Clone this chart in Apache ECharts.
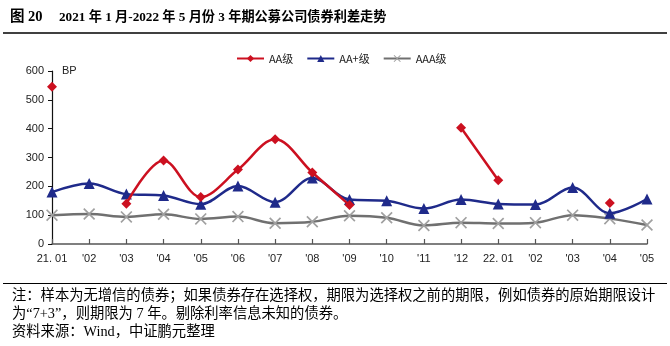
<!DOCTYPE html>
<html>
<head>
<meta charset="utf-8">
<script src="https://cdn.jsdelivr.net/npm/echarts@6/dist/echarts.min.js"></script>
<style>
  html, body { margin: 0; padding: 0; background: #fff; }
  #chart { width: 670px; height: 346px; }
</style>
</head>
<body>
<div id="chart"></div>
<script>
// Months from Jan 2021 to May 2022
var categories = ['21. 01', "'02", "'03", "'04", "'05", "'06", "'07", "'08", "'09", "'10", "'11", "'12",
                  '22. 01', "'02", "'03", "'04", "'05"];

// 3-year public corporate bond spreads (BP) by rating; null = no sample that month
var seriesAA   = [545, null, 140, 290, 163, 258, 363, 248, 135, null, null, 403, 221, null, null, 142, null];
var seriesAAp  = [180, 210, 173, 168, 138, 201, 145, 229, 154, 150, 123, 154, 139, 137, 196, 107, 156];
var seriesAAA  = [100, 104, 94, 103, 87, 95, 72, 77, 98, 91, 64, 74, 71, 74, 100, 88, 66];

var seriesNames = ['AA级', 'AA+级', 'AAA级'];
var yTicks = { min: 0, max: 600, step: 100 };

var titleNo = '图 20';
var titleText = '2021 年 1 月-2022 年 5 月份 3 年期公募公司债券利差走势';
var noteLines = [
  '注：样本为无增信的债券；如果债券存在选择权，期限为选择权之前的期限，例如债券的原始期限设计',
  '为“7+3”，则期限为 7 年。剔除利率信息未知的债券。',
  '资料来源：Wind，中证鹏元整理'
];

var crossPath = 'path://M0,1L1,0L5,4L9,0L10,1L6,5L10,9L9,10L5,6L1,10L0,9L4,5Z';
var latin = "'Liberation Sans', Arial, sans-serif";
var serifCJK = "'Liberation Serif', 'Noto Sans CJK SC', serif";

var chart = echarts.init(document.getElementById('chart'), null, { renderer: 'canvas' });

var option = {
  animation: false,
  backgroundColor: '#fff',
  legend: {
    top: 48,
    left: 231,
    itemWidth: 27,
    itemHeight: 9,
    itemGap: 13,
    textStyle: { fontFamily: "'Noto Sans CJK SC', " + latin, fontSize: 11, color: '#222' },
    data: seriesNames
  },
  grid: { left: 52, right: 23, top: 71, bottom: 102, containLabel: false },
  xAxis: {
    type: 'category',
    data: categories,
    boundaryGap: false,
    axisLine: { lineStyle: { color: '#555', width: 1.5 } },
    axisTick: { inside: true, length: 5, alignWithLabel: true, lineStyle: { color: '#555', width: 1.2 } },
    axisLabel: { interval: 0, margin: 9, fontFamily: latin, fontSize: 11, color: '#222' },
    splitLine: { show: false }
  },
  yAxis: {
    type: 'value',
    min: yTicks.min,
    max: yTicks.max,
    interval: yTicks.step,
    axisLine: { show: true, lineStyle: { color: '#111', width: 1.2 } },
    axisTick: { show: true, length: 4, lineStyle: { color: '#111' } },
    axisLabel: { margin: 8, fontFamily: latin, fontSize: 11, color: '#222' },
    splitLine: { show: false }
  },
  series: [
    {
      name: seriesNames[0],
      type: 'line',
      data: seriesAA,
      smooth: 0.35,
      connectNulls: false,
      symbol: 'diamond',
      symbolSize: 10,
      lineStyle: { color: '#CC1020', width: 2.5 },
      itemStyle: { color: '#CC1020' },
      z: 4
    },
    {
      name: seriesNames[1],
      type: 'line',
      data: seriesAAp,
      smooth: 0.35,
      symbol: 'triangle',
      symbolSize: 11,
      lineStyle: { color: '#1F2A8A', width: 2.5 },
      itemStyle: { color: '#1F2A8A' },
      z: 3
    },
    {
      name: seriesNames[2],
      type: 'line',
      data: seriesAAA,
      smooth: 0.35,
      symbol: crossPath,
      symbolSize: 12,
      lineStyle: { color: '#707070', width: 2.5 },
      itemStyle: { color: '#A0A0A0' },
      z: 2
    }
  ],
  graphic: [
    { type: 'text', left: 10, top: 10,
      style: { text: titleNo, font: 'bold 14.5px ' + serifCJK, fill: '#000' } },
    { type: 'text', left: 59, top: 10.5,
      style: { text: titleText, font: 'bold 13.2px ' + serifCJK, fill: '#000' } },
    { type: 'line', shape: { x1: 3, y1: 33, x2: 667, y2: 33 },
      style: { stroke: '#000', lineWidth: 1.5 } },
    { type: 'text', left: 62, top: 65,
      style: { text: 'BP', font: '11px ' + latin, fill: '#222' } },
    { type: 'line', shape: { x1: 3, y1: 283.5, x2: 667, y2: 283.5 },
      style: { stroke: '#000', lineWidth: 1 } },
    { type: 'text', left: 12, top: 289,
      style: { text: noteLines[0], font: '14.3px ' + serifCJK, fill: '#000' } },
    { type: 'text', left: 12, top: 307,
      style: { text: noteLines[1], font: '14.3px ' + serifCJK, fill: '#000' } },
    { type: 'text', left: 12, top: 325.5,
      style: { text: noteLines[2], font: '14.3px ' + serifCJK, fill: '#000' } }
  ]
};

chart.setOption(option);
</script>
</body>
</html>
